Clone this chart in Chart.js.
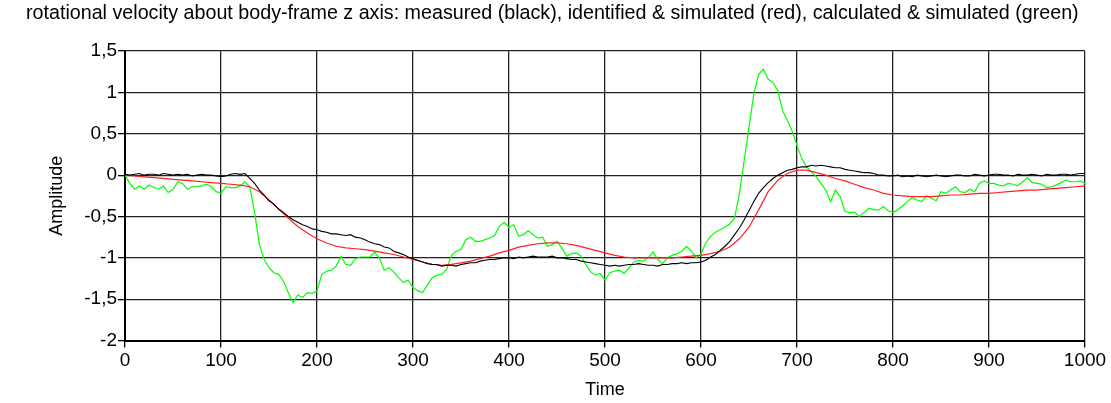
<!DOCTYPE html>
<html>
<head>
<meta charset="utf-8">
<script src="https://cdn.jsdelivr.net/npm/chart.js@4"></script>
<style>
  html, body { margin: 0; padding: 0; background: #fff; }
  #wrap { width: 1111px; height: 403px; }
</style>
</head>
<body>
<div id="wrap"><canvas id="rotz" width="1111" height="403"></canvas></div>
<script>
// time base every 5 units (measured signal, calculated model)
const timeFine = [0,5,10,15,20,25,30,35,40,45,50,55,60,65,70,75,80,85,90,95,
  100,105,110,115,120,125,130,135,140,145,150,155,160,165,170,175,180,185,190,195,
  200,205,210,215,220,225,230,235,240,245,250,255,260,265,270,275,280,285,290,295,
  300,305,310,315,320,325,330,335,340,345,350,355,360,365,370,375,380,385,390,395,
  400,405,410,415,420,425,430,435,440,445,450,455,460,465,470,475,480,485,490,495,
  500,505,510,515,520,525,530,535,540,545,550,555,560,565,570,575,580,585,590,595,
  600,605,610,615,620,625,630,635,640,645,650,655,660,665,670,675,680,685,690,695,
  700,705,710,715,720,725,730,735,740,745,750,755,760,765,770,775,780,785,790,795,
  800,805,810,815,820,825,830,835,840,845,850,855,860,865,870,875,880,885,890,895,
  900,905,910,915,920,925,930,935,940,945,950,955,960,965,970,975,980,985,990,995,1000];

// time base every 10 units (smooth identified model)
const timeCoarse = [0,10,20,30,40,50,60,70,80,90,100,110,120,130,140,150,160,170,180,190,
  200,210,220,230,240,250,260,270,280,290,300,310,320,330,340,350,360,370,380,390,
  400,410,420,430,440,450,460,470,480,490,500,510,520,530,540,550,560,570,580,590,
  600,610,620,630,640,650,660,670,680,690,700,710,720,730,740,750,760,770,780,790,
  800,810,820,830,840,850,860,870,880,890,900,910,920,930,940,950,960,970,980,990,1000];

const measured = [0.01,0.0,0.01,0.02,0.0,0.01,0.01,0.0,0.02,0.01,0.0,0.01,0.0,0.01,-0.01,0.0,0.01,0.0,0.0,-0.01,
  -0.02,-0.01,0.01,0.02,0.01,0.02,-0.04,-0.1,-0.18,-0.24,-0.31,-0.35,-0.41,-0.45,-0.5,-0.54,-0.57,-0.6,-0.62,-0.65,
  -0.66,-0.68,-0.69,-0.71,-0.71,-0.72,-0.73,-0.72,-0.75,-0.76,-0.78,-0.81,-0.83,-0.84,-0.87,-0.88,-0.92,-0.94,-0.96,-0.99,
  -1.01,-1.03,-1.05,-1.07,-1.08,-1.08,-1.1,-1.09,-1.09,-1.1,-1.08,-1.07,-1.06,-1.06,-1.04,-1.03,-1.02,-1.02,-1.01,-1.0,
  -1.0,-1.01,-0.99,-1.0,-0.99,-0.98,-0.99,-0.99,-0.99,-0.98,-1.0,-1.0,-1.01,-1.02,-1.02,-1.04,-1.05,-1.06,-1.07,-1.08,
  -1.09,-1.1,-1.09,-1.1,-1.09,-1.08,-1.08,-1.07,-1.08,-1.09,-1.09,-1.1,-1.08,-1.08,-1.07,-1.07,-1.06,-1.07,-1.06,-1.06,
  -1.05,-1.03,-0.99,-0.96,-0.91,-0.86,-0.8,-0.72,-0.64,-0.54,-0.43,-0.32,-0.22,-0.15,-0.09,-0.04,0.0,0.03,0.06,0.07,
  0.09,0.1,0.1,0.12,0.11,0.12,0.11,0.1,0.09,0.09,0.07,0.06,0.05,0.04,0.03,0.03,0.02,0.0,0.0,-0.01,
  -0.01,0.0,-0.02,-0.01,-0.02,0.0,-0.01,-0.02,-0.01,0.0,-0.01,-0.02,-0.01,0.0,0.0,-0.01,-0.01,0.01,0.0,-0.01,
  0.0,0.01,0.01,0.0,0.0,-0.01,0.01,0.0,0.0,0.01,0.0,-0.01,0.01,0.0,0.0,0.01,0.01,0.0,0.01,0.02,0.02];

const identified = [0.0,-0.01,-0.02,-0.03,-0.04,-0.05,-0.06,-0.07,-0.08,-0.09,-0.1,-0.11,-0.12,-0.14,-0.2,-0.3,-0.41,-0.52,-0.62,-0.7,
  -0.77,-0.82,-0.86,-0.88,-0.89,-0.9,-0.92,-0.94,-0.96,-0.99,-1.02,-1.05,-1.08,-1.09,-1.08,-1.06,-1.04,-1.01,-0.98,-0.94,
  -0.91,-0.87,-0.85,-0.83,-0.82,-0.82,-0.83,-0.85,-0.88,-0.91,-0.94,-0.97,-0.99,-1.0,-1.0,-1.0,-1.0,-1.0,-0.99,-0.98,
  -0.97,-0.95,-0.92,-0.87,-0.77,-0.63,-0.42,-0.2,-0.06,0.02,0.06,0.06,0.03,0.0,-0.04,-0.07,-0.11,-0.15,-0.18,-0.22,
  -0.24,-0.25,-0.26,-0.26,-0.26,-0.25,-0.24,-0.24,-0.23,-0.22,-0.22,-0.21,-0.2,-0.19,-0.18,-0.18,-0.17,-0.16,-0.15,-0.14,-0.13];

const calculated = [0.0,-0.1,-0.17,-0.13,-0.17,-0.12,-0.15,-0.17,-0.13,-0.21,-0.17,-0.08,-0.1,-0.17,-0.14,-0.14,-0.13,-0.11,-0.14,-0.2,
  -0.22,-0.14,-0.15,-0.15,-0.13,-0.08,-0.14,-0.45,-0.84,-1.02,-1.12,-1.18,-1.2,-1.28,-1.42,-1.54,-1.45,-1.48,-1.42,-1.43,
  -1.4,-1.2,-1.16,-1.15,-1.1,-0.98,-1.08,-1.09,-1.01,-0.99,-0.99,-0.99,-0.93,-1.0,-1.15,-1.12,-1.17,-1.24,-1.3,-1.27,
  -1.36,-1.4,-1.42,-1.33,-1.24,-1.21,-1.2,-1.14,-0.97,-0.92,-0.9,-0.78,-0.75,-0.8,-0.8,-0.78,-0.76,-0.73,-0.62,-0.57,
  -0.63,-0.6,-0.74,-0.72,-0.67,-0.72,-0.76,-0.75,-0.86,-0.84,-0.8,-0.88,-0.98,-0.95,-0.94,-0.98,-1.08,-1.17,-1.21,-1.19,
  -1.27,-1.18,-1.16,-1.15,-1.19,-1.12,-1.05,-1.03,-1.04,-1.0,-0.93,-1.02,-1.07,-1.0,-0.97,-0.95,-0.92,-0.86,-0.92,-1.0,
  -0.95,-0.82,-0.74,-0.69,-0.66,-0.63,-0.59,-0.52,-0.22,0.18,0.58,0.98,1.22,1.28,1.16,1.12,1.02,0.78,0.66,0.53,
  0.36,0.2,0.1,0.04,-0.02,-0.1,-0.18,-0.32,-0.18,-0.26,-0.44,-0.45,-0.45,-0.5,-0.45,-0.4,-0.42,-0.42,-0.38,-0.43,
  -0.45,-0.42,-0.37,-0.32,-0.27,-0.3,-0.32,-0.25,-0.28,-0.31,-0.2,-0.22,-0.18,-0.14,-0.2,-0.21,-0.17,-0.2,-0.1,-0.07,
  -0.1,-0.1,-0.12,-0.13,-0.1,-0.11,-0.13,-0.08,-0.03,-0.09,-0.1,-0.11,-0.15,-0.14,-0.12,-0.09,-0.06,-0.08,-0.08,-0.07,-0.1];

const xTicks = [0,100,200,300,400,500,600,700,800,900,1000];
const yTicks = [-2,-1.5,-1,-0.5,0,0.5,1,1.5];

const titleText = 'rotational velocity about body-frame z axis: measured (black), identified & simulated (red), calculated & simulated (green)';

function pairs(xs, ys) {
  return xs.map((x, i) => ({x: x, y: ys[i]}));
}

const FONT = "'Liberation Sans', Arial, sans-serif";
const PAD_LEFT = 26;
const GRID = {color: '#222', lineWidth: 1.3, tickLength: 7, tickColor: '#000'};

const data = {
  datasets: [
    {
      label: 'calculated & simulated',
      data: pairs(timeFine, calculated),
      borderColor: '#00ff00',
      borderWidth: 1.2,
      order: 3
    },
    {
      label: 'identified & simulated',
      data: pairs(timeCoarse, identified),
      borderColor: '#ff2020',
      borderWidth: 1.2,
      order: 2
    },
    {
      label: 'measured',
      data: pairs(timeFine, measured),
      borderColor: '#000000',
      borderWidth: 1.1,
      order: 1
    }
  ]
};

const config = {
  type: 'line',
  data: data,
  options: {
    responsive: false,
    animation: false,
    events: [],
    layout: {
      padding: {left: PAD_LEFT, right: 26, top: 0, bottom: 0}
    },
    elements: {
      point: {radius: 0},
      line: {tension: 0}
    },
    plugins: {
      legend: {display: false},
      tooltip: {enabled: false},
      title: {
        display: true,
        text: titleText,
        align: 'start',
        color: '#000',
        font: {family: FONT, size: 19.7, weight: 'normal'},
        padding: {top: 2, bottom: 25.5}
      }
    },
    scales: {
      x: {
        type: 'linear',
        min: 0,
        max: 1000,
        afterBuildTicks: s => { s.ticks = xTicks.map(v => ({value: v})); },
        afterFit: s => { s.height = 403 - 340.5; },
        ticks: {
          color: '#000',
          font: {family: FONT, size: 19},
          padding: 2,
          maxRotation: 0,
          autoSkip: false,
          callback: v => String(v)
        },
        grid: GRID,
        border: {color: '#000', width: 2},
        title: {
          display: true,
          text: 'Time',
          color: '#000',
          font: {family: FONT, size: 18},
          padding: {top: 0, bottom: 2}
        }
      },
      y: {
        type: 'linear',
        min: -2,
        max: 1.5,
        afterBuildTicks: s => { s.ticks = yTicks.map(v => ({value: v})); },
        afterFit: s => { s.width = 125 - PAD_LEFT; },
        ticks: {
          color: '#000',
          font: {family: FONT, size: 19},
          padding: 1,
          callback: v => String(v).replace('.', ',')
        },
        grid: GRID,
        border: {color: '#000', width: 2},
        title: {
          display: true,
          text: 'Amplitude',
          color: '#000',
          font: {family: FONT, size: 18},
          padding: {top: 20, bottom: 0}
        }
      }
    }
  }
};

const ctx = document.getElementById('rotz');
new Chart(ctx, config);
</script>
</body>
</html>
